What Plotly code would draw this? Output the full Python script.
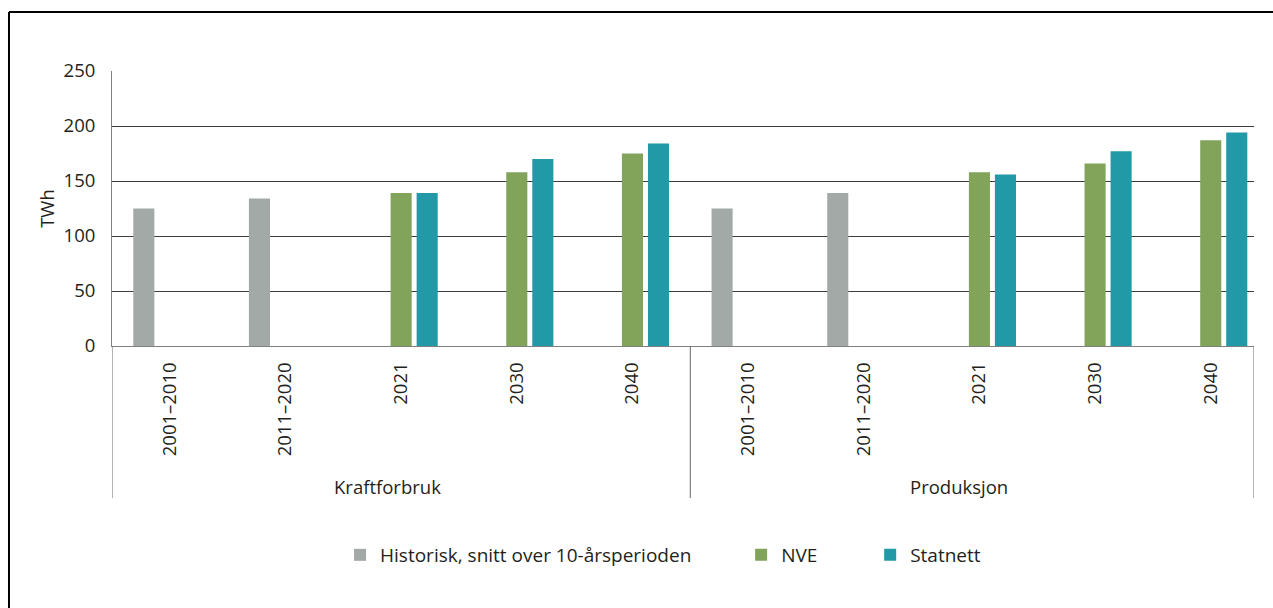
import plotly.graph_objects as go

# Category layout: two groups of five periods each
groups = ["Kraftforbruk", "Produksjon"]
periods = ["2001–2010", "2011–2020", "2021", "2030", "2040"]
tick_labels = periods + periods

# Positions (category index) and values in TWh for each series
hist_x = [0, 1, 5, 6]
hist_y = [125, 134, 125, 139]

nve_x = [2, 3, 4, 7, 8, 9]
nve_y = [139, 158, 175, 158, 166, 187]

statnett_x = [2, 3, 4, 7, 8, 9]
statnett_y = [139, 170, 184, 156, 177, 194]

series_names = ["Historisk, snitt over 10-årsperioden", "NVE", "Statnett"]
colors = ["#A2A9A7", "#82A35A", "#2199A6"]

FONT = "Open Sans"
TEXT = "#231F20"
FS = 18.5

fig = go.Figure()
for name, xs, ys, col, leg in zip(
    series_names,
    [hist_x, nve_x, statnett_x],
    [hist_y, nve_y, statnett_y],
    colors,
    ["legend", "legend2", "legend3"],
):
    fig.add_trace(go.Bar(x=xs, y=ys, name=name, marker_color=col,
                         marker_line_width=0, legend=leg))

x_right = 9.374
legend_y = -0.76
fig.update_layout(
    width=1273, height=608,
    margin=dict(l=112, r=19, t=71, b=262),
    paper_bgcolor="white", plot_bgcolor="white",
    font=dict(family=FONT, size=FS, color=TEXT),
    barmode="group", bargap=0.325, bargroupgap=0.19,
    showlegend=True,
    legend=dict(x=0.1997, y=legend_y, xanchor="left", yanchor="middle",
                orientation="h", font=dict(size=19)),
    legend2=dict(x=0.5509, y=legend_y, xanchor="left", yanchor="middle",
                 orientation="h", font=dict(size=19)),
    legend3=dict(x=0.6639, y=legend_y, xanchor="left", yanchor="middle",
                 orientation="h", font=dict(size=19)),
)

fig.update_xaxes(
    range=[-0.5, x_right],
    tickmode="array", tickvals=list(range(len(tick_labels))), ticktext=tick_labels,
    tickangle=-90, ticks="", showgrid=False, zeroline=False,
    showline=True, linecolor="#808080", linewidth=1,
    ticklabelstandoff=8,
    tickfont=dict(size=FS),
)
fig.update_yaxes(
    range=[0, 250], tickvals=[0, 50, 100, 150, 200, 250],
    ticks="", showgrid=True, gridcolor="#3c3c3c", gridwidth=1,
    zeroline=False, showline=True, linecolor="#808080", linewidth=1,
    ticklabelstandoff=12, tickfont=dict(size=FS),
    title=dict(text="TWh", standoff=4, font=dict(size=FS)),
)

# Group dividers below the category axis
div_bottom = -0.553
for xv in [-0.5, 4.5, x_right]:
    fig.add_shape(type="line", xref="x", yref="paper", x0=xv, x1=xv,
                  y0=0, y1=div_bottom, line=dict(color="#666666", width=1))

# Group labels
for gx, gname in zip([1.879, 6.82], groups):
    fig.add_annotation(x=gx, y=-0.5127, xref="x", yref="paper", text=gname,
                       showarrow=False, xanchor="center", yanchor="middle",
                       font=dict(size=FS, color=TEXT))

# Outer frame (left and top edges)
fig.add_shape(type="line", xref="paper", yref="paper",
              x0=-0.0902, x1=-0.0902, y0=-1.0, y1=1.2145,
              line=dict(color="black", width=2))
fig.add_shape(type="line", xref="paper", yref="paper",
              x0=-0.0902, x1=1.02, y0=1.2145, y1=1.2145,
              line=dict(color="black", width=2))

fig.write_html("out.html")
